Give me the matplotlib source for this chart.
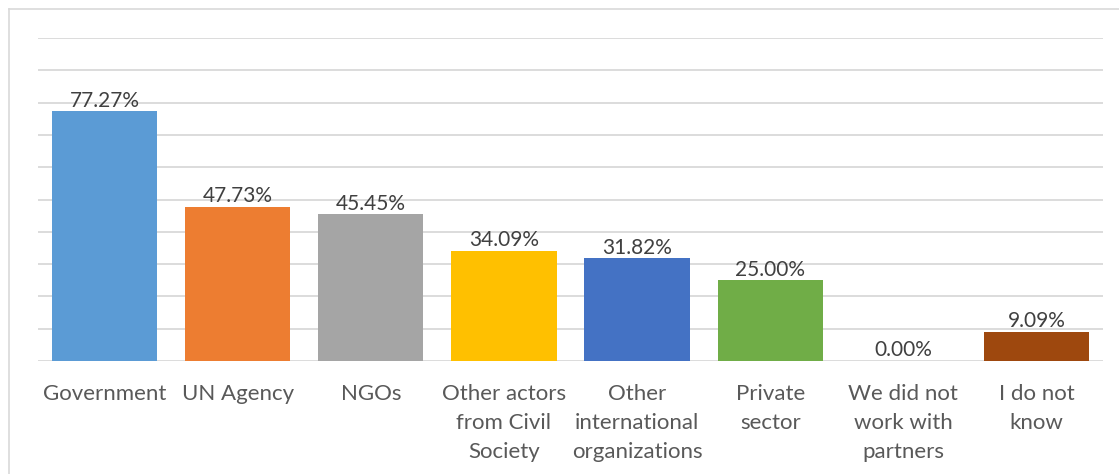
import matplotlib
matplotlib.use("Agg")
import matplotlib.pyplot as plt
from matplotlib.lines import Line2D

categories = ["Government", "UN Agency", "NGOs", "Other actors\nfrom Civil\nSociety",
              "Other\ninternational\norganizations", "Private\nsector",
              "We did not\nwork with\npartners", "I do not\nknow"]
values = [77.27, 47.73, 45.45, 34.09, 31.82, 25.00, 0.00, 9.09]
colors = ["#5B9BD5", "#ED7D31", "#A5A5A5", "#FFC000", "#4472C4", "#70AD47", "#255E91", "#9E480E"]

W, H = 1119, 474
fig = plt.figure(figsize=(W / 100, H / 100), dpi=100)
plt.rcParams['font.family'] = ['Lato', 'DejaVu Sans']

ax = fig.add_axes([38 / W, 1 - 361 / H, (1103 - 38) / W, (361 - 38) / H])
x = list(range(len(categories)))
ax.bar(x, values, width=0.79, color=colors, zorder=3)
ax.set_xlim(-0.5, len(categories) - 0.5)
ax.set_ylim(0, 100)
ax.set_yticks(range(0, 101, 10))
ax.yaxis.grid(True, color="#D9D9D9", linewidth=1.3, zorder=0)
ax.tick_params(axis='y', left=False, labelleft=False)
ax.tick_params(axis='x', bottom=False, pad=13)
ax.set_xticks(x)
ax.set_xticklabels(categories, fontsize=16, color="#595959", linespacing=1.55, va="top")
for s in ax.spines.values():
    s.set_visible(False)

for xi, v in zip(x, values):
    ax.annotate(f"{v:.2f}%", (xi, v), xytext=(0, 0.5), textcoords="offset points",
                ha="center", va="bottom", fontsize=15, color="#404040", zorder=4)

# chart border
fig.add_artist(Line2D([9 / W, 1], [1 - 9 / H, 1 - 9 / H], transform=fig.transFigure,
                      color="#D9D9D9", linewidth=1.2))
fig.add_artist(Line2D([9 / W, 9 / W], [0, 1 - 9 / H], transform=fig.transFigure,
                      color="#D9D9D9", linewidth=1.2))

fig.savefig("out.png", dpi=100, facecolor="white")
